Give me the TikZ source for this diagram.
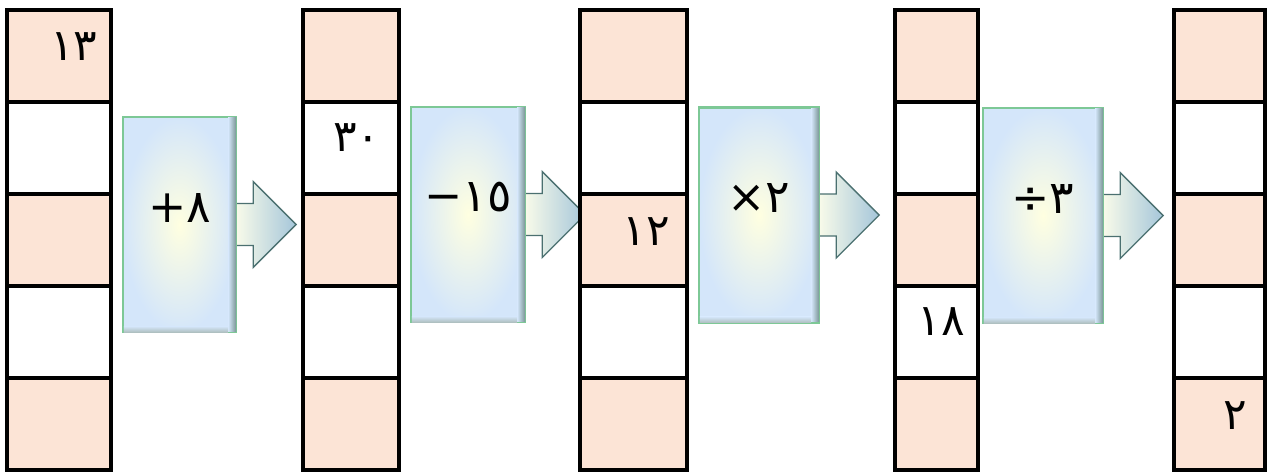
\documentclass[tikz,border=0pt]{standalone}
\usepackage{fontspec}
\newfontfamily\arabicfont[Script=Arabic]{DejaVu Sans}
\usetikzlibrary{calc, backgrounds}

\definecolor{peach}{RGB}{252,228,214}
\definecolor{boxblue}{RGB}{212,230,250}
\definecolor{boxedge}{RGB}{125,200,150}
\definecolor{arrowedge}{RGB}{75,112,112}
\definecolor{arrowblue}{RGB}{165,198,218}

\begin{document}
\begin{tikzpicture}[
    x=0.02cm, y=-0.02cm,
    cell/.style={
        rectangle,
        draw,
        line width=1.8pt,
        minimum height=1.84cm,
        inner sep=0pt
    },
    value/.style={
        inner sep=0pt,
        font=\arabicfont\fontsize{25}{28}\selectfont
    },
    operation/.style={
        rectangle,
        draw=boxedge,
        line width=1.4pt,
        inner sep=0pt,
        minimum height=4.3cm,
        inner color=yellow!12!white,
        outer color=boxblue
    },
    optext/.style={
        inner sep=0pt,
        font=\arabicfont\fontsize{26}{30}\selectfont
    },
    pointer/.style={
        draw=arrowedge,
        line width=0.8pt,
        left color=yellow!8!white,
        right color=arrowblue
    }
]
    \useasboundingbox (0,0) rectangle (1271,471);

    % --- Columns of cells ---
    \foreach \col/\xl/\xr in {1/7/111, 2/303/399, 3/580/687, 4/895/978, 5/1174/1265}
      \foreach \row/\tint in {1/peach, 2/white, 3/peach, 4/white, 5/peach}
        \node [cell, fill=\tint, minimum width={(\xr-\xl)*0.02cm}]
          (c\col\row) at ({(\xl+\xr)/2}, {56+(\row-1)*92}) {};

    % --- Given values ---
    \node [value] (v13) at (74,47) {١٣};
    \node [value] (v30) at (357,138) {٣٠};
    \node [value] (v12) at (646,232) {١٢};
    \node [value] (v18) at (941,322) {١٨};
    \node [value] (v2) at (1235,416) {٢};

    % --- Operation boxes (symbols in logical RTL order) ---
    \foreach \name/\cx/\cy/\w/\sym in {add/179.5/224.5/113/{٨+}, sub/468/214.5/114/{١٥−},
                                      mul/759/215/120/{٢×}, div/1043/215.5/120/{٣÷}} {
        \node [operation, minimum width={\w*0.02cm}] (\name) at (\cx,\cy) {};
        % bevel on the right and bottom sides
        \shade [left color=boxblue, right color=arrowedge!75]
            ($(\name.north east)+(-9,2)$) rectangle ($(\name.south east)+(-1,-2)$);
        \shade [top color=boxblue, bottom color=arrowedge!45]
            ($(\name.south west)+(2,-7)$) rectangle ($(\name.south east)+(-9,-1)$);
        \node [optext] (\name-sym) at ($(\name.center)+(0,-17)$) {\sym};
        % arrow out of the box
        \begin{pgfonlayer}{background}
        \path [pointer] ($(\name.east)+(-6,-21)$) -- ++(22,0) -- ++(0,-22)
            -- ++(43,43) -- ++(-43,43) -- ++(0,-22) -- ++(-22,0) -- cycle;
        \end{pgfonlayer}
    }

\end{tikzpicture}
\end{document}
